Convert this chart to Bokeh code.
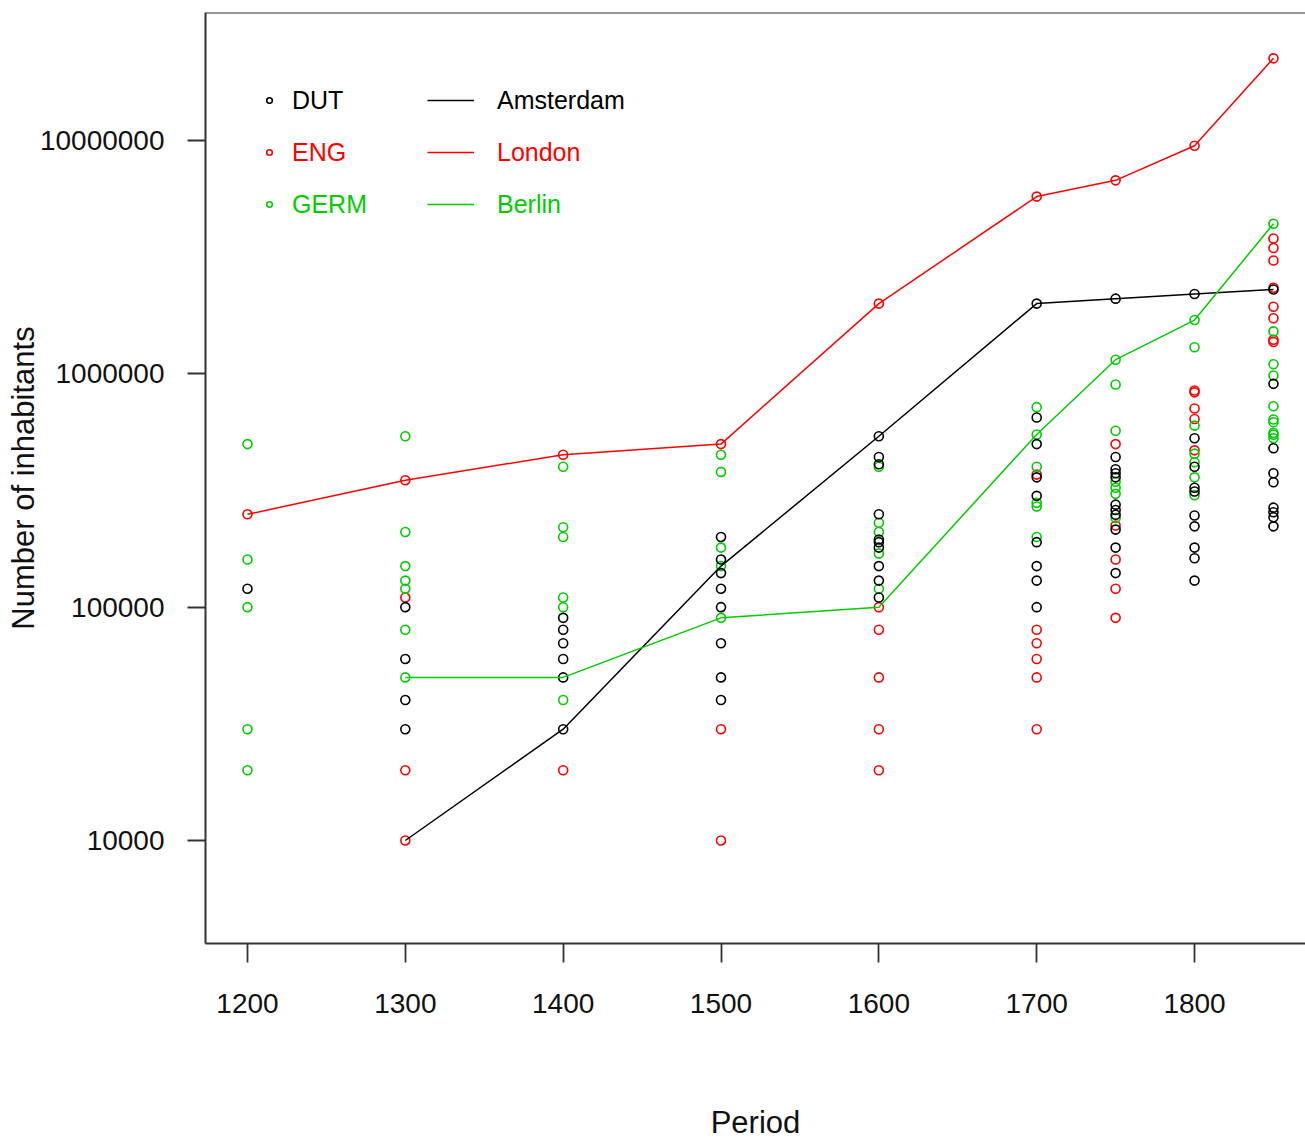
from bokeh.plotting import figure
from bokeh.models import (Range1d, FixedTicker, NumeralTickFormatter, Legend,
                          LegendItem, Span)
from bokeh.embed import file_html
from bokeh.resources import INLINE

# ---------------- data ----------------
PERIODS = [1200, 1300, 1400, 1500, 1600, 1700, 1750, 1800, 1850]

DUT_VALUES = [
    [120000],
    [100000, 60000, 40000, 30000],
    [90000, 80000, 70000, 60000, 50000, 30000],
    [200000, 160000, 140000, 120000, 100000, 70000, 50000, 40000],
    [540000, 440000, 410000, 250000, 195000, 190000, 180000, 150000, 130000, 110000],
    [2000000, 650000, 500000, 360000, 300000, 190000, 150000, 130000, 100000],
    [2100000, 440000, 390000, 375000, 360000, 275000, 261000, 249000, 215000, 180000, 140000],
    [2200000, 530000, 400000, 325000, 313000, 247000, 222000, 180000, 162000, 130000],
    [2300000, 906000, 480000, 375000, 343000, 267000, 255000, 243000, 222000],
]

ENG_VALUES = [
    [250000],
    [350000, 110000, 20000, 10000],
    [450000, 20000],
    [500000, 30000, 10000],
    [2000000, 100000, 80000, 50000, 30000, 20000],
    [5750000, 370000, 80000, 70000, 60000, 50000, 30000],
    [6750000, 500000, 224000, 160000, 120000, 90000],
    [9500000, 848000, 833000, 710000, 640000, 470000],
    [22500000, 3800000, 3460000, 3060000, 2340000, 1940000, 1730000, 1400000, 1370000],
]

GERM_VALUES = [
    [500000, 160000, 100000, 30000, 20000],
    [540000, 210000, 150000, 130000, 120000, 80000, 50000],
    [400000, 220000, 200000, 110000, 100000, 40000],
    [450000, 380000, 180000, 150000, 90000],
    [400000, 230000, 210000, 170000, 120000],
    [720000, 550000, 400000, 280000, 270000, 200000],
    [1150000, 900000, 570000, 345000, 325000, 306000, 241000],
    [1700000, 1300000, 600000, 455000, 418000, 360000, 302000],
    [4400000, 1520000, 1100000, 984000, 726000, 637000, 620000, 558000, 548000, 530000],
]

AMSTERDAM_PERIOD = [1300, 1400, 1500, 1600, 1700, 1750, 1800, 1850]
AMSTERDAM_POP = [10000, 30000, 150000, 540000, 2000000, 2100000, 2200000, 2300000]

LONDON_PERIOD = [1200, 1300, 1400, 1500, 1600, 1700, 1750, 1800, 1850]
LONDON_POP = [250000, 350000, 450000, 500000, 2000000, 5750000, 6750000, 9500000, 22500000]

BERLIN_PERIOD = [1300, 1400, 1500, 1600, 1700, 1750, 1800, 1850]
BERLIN_POP = [50000, 50000, 90000, 100000, 550000, 1150000, 1700000, 4400000]

X_TICKS = [1200, 1300, 1400, 1500, 1600, 1700, 1800]
Y_TICKS = [10000, 100000, 1000000, 10000000]

BLACK = "#000000"
RED = "#FF0000"
GREEN = "#00CD00"
FONT = "Liberation Sans"


def flatten(groups):
    xs, ys = [], []
    for per, vals in zip(PERIODS, groups):
        for v in vals:
            xs.append(per)
            ys.append(v)
    return xs, ys


# ---------------- figure ----------------
Y_TOP = 3.537e7
p = figure(width=1305, height=1142, y_axis_type="log",
           x_range=Range1d(1173.4, 1870.3), y_range=Range1d(3619, Y_TOP),
           output_backend="svg", toolbar_location=None,
           min_border_left=205, min_border_right=0,
           min_border_top=12, min_border_bottom=199)
p.xgrid.visible = False
p.ygrid.visible = False
p.outline_line_color = None
p.background_fill_color = "white"
p.border_fill_color = "white"

box_color = "#333333"
for ax in (p.xaxis[0], p.yaxis[0]):
    ax.axis_line_color = box_color
    ax.axis_line_width = 2
    ax.major_tick_line_color = box_color
    ax.major_tick_line_width = 1.8
    ax.major_tick_in = 0
    ax.minor_tick_line_color = None
    ax.major_label_text_font = FONT
    ax.major_label_text_font_size = "28px"
    ax.major_label_text_color = "#111111"
    ax.axis_label_text_font = FONT
    ax.axis_label_text_font_size = "31px"
    ax.axis_label_text_font_style = "normal"
    ax.axis_label_text_color = "#111111"

p.xaxis.ticker = FixedTicker(ticks=X_TICKS)
p.xaxis.major_tick_out = 19
p.xaxis.major_label_standoff = 31
p.xaxis.axis_label = "Period"
p.xaxis.axis_label_standoff = 89

p.yaxis.ticker = FixedTicker(ticks=Y_TICKS)
p.yaxis.formatter = NumeralTickFormatter(format="0")
p.yaxis.major_tick_out = 18
p.yaxis.major_label_standoff = 23
p.yaxis.axis_label = "Number of inhabitants"
p.yaxis.axis_label_standoff = -4

# top border of the box
p.add_layout(Span(location=Y_TOP, dimension="width", line_color=box_color, line_width=2))

# ---------------- points ----------------
ex, ey = flatten(ENG_VALUES)
gx, gy = flatten(GERM_VALUES)
dx, dy = flatten(DUT_VALUES)

MS = 9
r_eng = p.scatter(ex, ey, marker="circle", size=MS, fill_color=None, line_color=RED, line_width=1.6)
r_germ = p.scatter(gx, gy, marker="circle", size=MS, fill_color=None, line_color=GREEN, line_width=1.6)
r_dut = p.scatter(dx, dy, marker="circle", size=MS, fill_color=None, line_color=BLACK, line_width=1.6)

# ---------------- lines ----------------
r_ams = p.line(AMSTERDAM_PERIOD, AMSTERDAM_POP, line_color=BLACK, line_width=1.5)
r_lon = p.line(LONDON_PERIOD, LONDON_POP, line_color=RED, line_width=1.5)
r_ber = p.line(BERLIN_PERIOD, BERLIN_POP, line_color=GREEN, line_width=1.5)

# ---------------- legend ----------------
def add_legend(label, renderer, vx, vy, color, gw, standoff):
    lg = Legend(items=[LegendItem(label=label, renderers=[renderer])],
                location=(vx, vy), orientation="vertical",
                padding=0, margin=0, spacing=0,
                border_line_color=None, background_fill_alpha=0,
                glyph_width=gw, glyph_height=40, label_height=40,
                label_standoff=standoff,
                label_text_font=FONT, label_text_font_size="25px",
                label_text_color=color)
    p.add_layout(lg)

rows = [(823, "DUT", r_dut, "Amsterdam", r_ams, BLACK),
        (771, "ENG", r_eng, "London", r_lon, RED),
        (719, "GERM", r_germ, "Berlin", r_ber, GREEN)]
for vy, lab1, r1, lab2, r2, col in rows:
    add_legend(lab1, r1, 57, vy, col, 14, 16)
    add_legend(lab2, r2, 222, vy, col, 47, 23)

open("out.html", "w").write(file_html(p, INLINE))
